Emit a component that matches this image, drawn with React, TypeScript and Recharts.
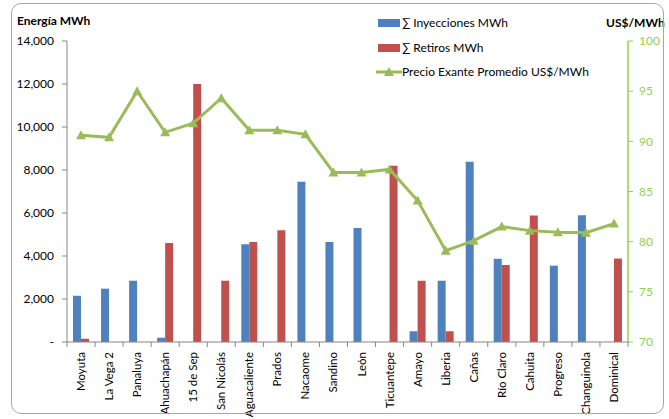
import { ComposedChart, Bar, Line, XAxis, YAxis } from 'recharts';

const plantas = ['Moyuta', 'La Vega 2', 'Panaluya', 'Ahuachapán', '15 de Sep', 'San Nicolás', 'Aguacaliente', 'Prados', 'Nacaome', 'Sandino', 'León', 'Ticuantepe', 'Amayo', 'Liberia', 'Cañas', 'Río Claro', 'Cahuita', 'Progreso', 'Changuinola', 'Dominical'];
const inyecciones = [2150, 2480, 2850, 200, 0, 0, 4550, 0, 7450, 4650, 5300, 0, 500, 2850, 8380, 3870, 0, 3550, 5900, 0];
const retiros = [150, 0, 0, 4600, 12000, 2850, 4650, 5200, 0, 0, 0, 8200, 2850, 500, 0, 3580, 5880, 0, 0, 3880];
const precio = [90.6, 90.4, 95.0, 90.9, 91.8, 94.3, 91.1, 91.1, 90.7, 86.9, 86.9, 87.2, 84.1, 79.1, 80.1, 81.5, 81.1, 80.95, 80.9, 81.8];
const energiaTicks = [0, 2000, 4000, 6000, 8000, 10000, 12000, 14000];
const precioTicks = [70, 75, 80, 85, 90, 95, 100];

const data = plantas.map((p, i) => ({ planta: p, iny: inyecciones[i], ret: retiros[i], precio: precio[i] }));

const BLUE = '#4F81BD';
const RED = '#C0504D';
const GREEN = '#9BBB59';
const AXIS_GREEN = '#92D050';
const FONT = 'Lato, "Open Sans", sans-serif';

const W = 669;
const H = 419;
const M = { top: 41, right: 11, bottom: 12, left: 10 };
const LEFT_W = 57;
const RIGHT_W = 30;
const plotW = W - M.left - M.right - LEFT_W - RIGHT_W;
const band = plotW / plantas.length;

const Triangle = (props: any) => {
  const { cx, cy } = props;
  if (cx == null || cy == null) return null;
  return <path d={`M${cx},${cy - 5} L${cx + 5},${cy + 4} L${cx - 5},${cy + 4} Z`} fill={GREEN} />;
};

const XTick = (props: any) => {
  const { x, y, payload, index } = props;
  return (
    <g>
      <line x1={x - band / 2} y1={y - 8} x2={x - band / 2} y2={y - 3} stroke="#868686" />
      {index === plantas.length - 1 && (
        <line x1={x + band / 2} y1={y - 8} x2={x + band / 2} y2={y - 3} stroke="#868686" />
      )}
      <text
        x={0}
        y={0}
        transform={`translate(${x + 4},${y + 2}) rotate(-90)`}
        textAnchor="end"
        fontSize={11.5}
        fontFamily={FONT}
        fill="#000"
      >
        {payload.value}
      </text>
    </g>
  );
};

const LegendBox = () => (
  <div style={{ fontFamily: FONT, fontSize: 12, color: '#000', lineHeight: '24.5px' }}>
    <div style={{ display: 'flex', alignItems: 'center' }}>
      <span style={{ display: 'inline-block', width: 22, height: 8, background: BLUE, marginRight: 2, marginLeft: 2 }} />
      ∑ Inyecciones MWh
    </div>
    <div style={{ display: 'flex', alignItems: 'center' }}>
      <span style={{ display: 'inline-block', width: 22, height: 8, background: RED, marginRight: 2, marginLeft: 2 }} />
      ∑ Retiros MWh
    </div>
    <div style={{ display: 'flex', alignItems: 'center' }}>
      <svg width={26} height={12}>
        <line x1={0} y1={6} x2={26} y2={6} stroke={GREEN} strokeWidth={3} />
        <path d="M13,1 L18,10 L8,10 Z" fill={GREEN} />
      </svg>
      Precio Exante Promedio US$/MWh
    </div>
  </div>
);

export default function App() {
  return (
    <div style={{ position: 'absolute', left: 0, top: 0, width: W, height: H, background: '#fff' }}>
      <ComposedChart width={W} height={H} data={data} margin={M} barGap={0} barSize={8}>
        <XAxis
          dataKey="planta"
          interval={0}
          height={65}
          tickLine={false}
          axisLine={{ stroke: '#868686' }}
          tick={<XTick />}
        />
        <YAxis
          yAxisId="e"
          width={LEFT_W}
          domain={[0, 14000]}
          ticks={energiaTicks}
          tickFormatter={(v: number) => (v === 0 ? '-' : v.toLocaleString('en-US'))}
          axisLine={{ stroke: '#868686' }}
          tickLine={{ stroke: '#868686' }}
          tickSize={5}
          tickMargin={8}
          tick={{ fontSize: 12, fill: '#000', fontFamily: FONT }}
        />
        <YAxis
          yAxisId="p"
          orientation="right"
          width={RIGHT_W}
          domain={[70, 100]}
          ticks={precioTicks}
          axisLine={{ stroke: AXIS_GREEN, strokeWidth: 1.5 }}
          tickLine={{ stroke: AXIS_GREEN }}
          tickSize={5}
          tickMargin={6}
          tick={{ fontSize: 12, fill: AXIS_GREEN, fontFamily: FONT }}
        />
        <Bar yAxisId="e" dataKey="iny" fill={BLUE} isAnimationActive={false} />
        <Bar yAxisId="e" dataKey="ret" fill={RED} isAnimationActive={false} />
        <Line
          yAxisId="p"
          dataKey="precio"
          stroke={GREEN}
          strokeWidth={3}
          dot={<Triangle />}
          activeDot={false}
          isAnimationActive={false}
        />
      </ComposedChart>
      <div style={{ position: 'absolute', left: 376, top: 11 }}>
        <LegendBox />
      </div>
      <div style={{ position: 'absolute', left: 17, top: 13, fontFamily: FONT, fontSize: 12, fontWeight: 700 }}>
        Energía MWh
      </div>
      <div style={{ position: 'absolute', left: 606, top: 15, fontFamily: FONT, fontSize: 12, fontWeight: 700 }}>
        US$/MWh
      </div>
      <div
        style={{
          position: 'absolute',
          left: 11,
          top: 3,
          width: 651,
          height: 409,
          border: '1px solid #a6a6a6',
          borderRadius: 10,
          pointerEvents: 'none',
        }}
      />
    </div>
  );
}
